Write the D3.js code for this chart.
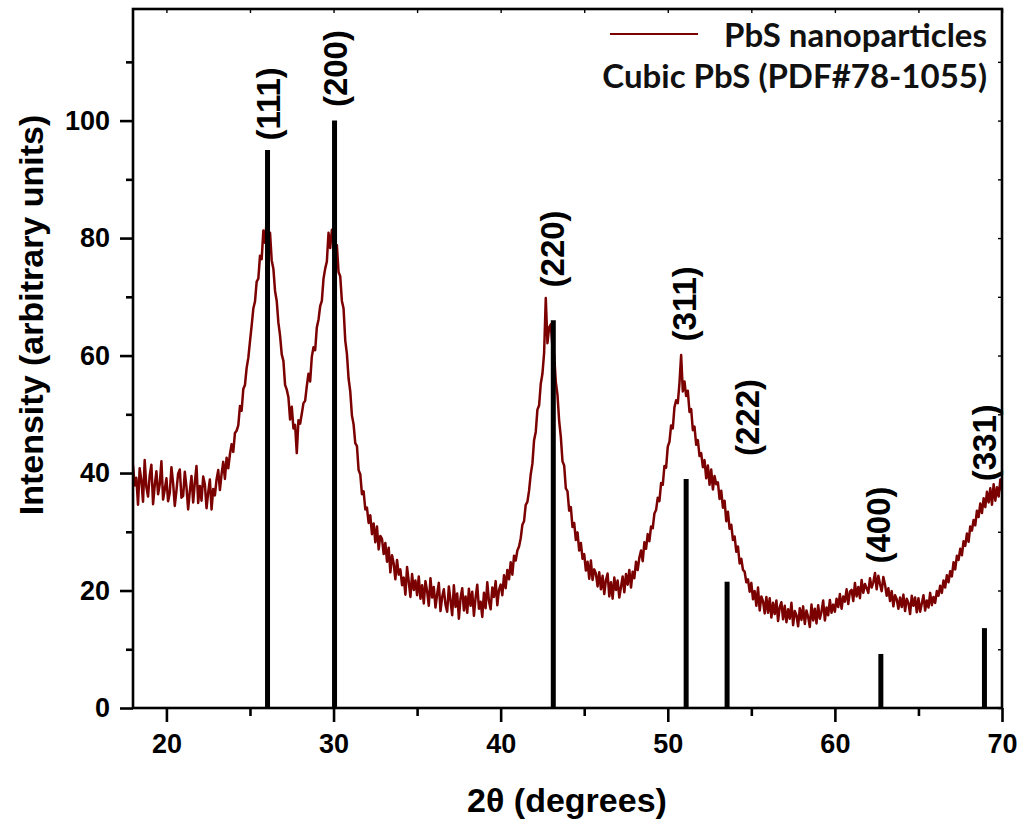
<!DOCTYPE html>
<html>
<head>
<meta charset="utf-8">
<script src="https://cdn.jsdelivr.net/npm/d3@7"></script>
<style>
  html, body { margin: 0; padding: 0; background: #fff; }
  svg { display: block; }
  .tick text { font-family: "Liberation Sans", Arial, sans-serif; font-weight: bold; }
</style>
</head>
<body>
<svg id="chart" width="1021" height="825"></svg>
<script>
// 2θ scan grid (degrees)
const thetaStart = 18.0;
const thetaStep = 0.1;

// Measured XRD intensity of the PbS nanoparticles, one value per 0.1° from 18° to 70°
const intensity = [
  41.3, 37.9, 39.2, 34.6, 40.8, 38.8, 35.1, 42.2, 37.6, 36.0,
  39.6, 41.4, 34.7, 37.9, 40.3, 36.4, 38.1, 42.0, 35.5, 37.2,
  39.1, 35.2, 36.6, 41.0, 38.3, 34.4, 37.0, 39.9, 40.6, 35.8,
  36.1, 40.2, 37.6, 33.8, 36.9, 39.5, 35.0, 38.4, 41.2, 34.9,
  37.8, 35.3, 39.4, 38.1, 34.0, 36.7, 38.9, 33.8, 37.3, 36.2,
  38.9, 40.5, 37.1, 39.8, 41.9, 39.0, 42.6, 40.8, 43.2, 44.9,
  43.6, 46.8, 47.2, 48.1, 51.4, 50.6, 54.3, 55.0, 57.9, 59.6,
  62.4, 65.1, 68.0, 69.2, 72.6, 73.1, 77.0, 76.4, 81.3, 79.2,
  83.1, 78.4, 80.9, 76.2, 74.8, 71.0, 69.3, 65.6, 63.4, 60.2,
  59.1, 55.0, 54.2, 52.9, 49.1, 51.3, 47.6, 48.2, 43.4, 49.0,
  48.4, 50.1, 51.9, 52.3, 54.8, 56.9, 55.6, 59.8, 61.4, 60.9,
  64.8, 66.1, 68.4, 69.3, 73.1, 74.8, 76.0, 80.9, 78.3, 81.4,
  79.6, 76.9, 78.8, 74.2, 73.5, 69.3, 68.0, 62.6, 60.3, 56.1,
  53.9, 49.8, 48.3, 45.1, 44.6, 40.5, 39.8, 36.4, 36.9, 33.8,
  34.1, 31.5, 32.8, 29.6, 31.4, 28.2, 30.9, 27.0, 29.3, 28.8,
  26.2, 28.1, 24.9, 27.3, 23.1, 26.0, 24.6, 21.9, 25.2, 22.7,
  23.6, 20.9, 22.2, 19.3, 24.0, 21.5, 18.9, 22.8, 20.1, 21.7,
  19.2, 22.4, 18.6, 20.9, 17.8, 21.6, 19.9, 17.4, 22.1, 18.8,
  20.6, 17.1, 19.4, 21.3, 16.5, 18.9, 20.2, 17.6, 16.4, 20.7,
  18.3, 15.8, 20.9, 17.2, 19.5, 15.2, 18.7, 20.4, 16.6, 19.0,
  16.2, 20.3, 17.4, 19.8, 15.7, 18.8, 21.0, 16.9, 18.1, 15.5,
  19.6, 17.0, 21.4, 18.2, 16.8, 20.5, 18.9, 21.6, 17.5, 20.1,
  21.0, 19.2, 22.6, 20.4, 23.5, 21.9, 24.8, 22.7, 25.9, 25.1,
  26.8, 27.5, 28.9, 31.2, 31.8, 34.6, 35.1, 37.0, 39.8, 41.6,
  45.6, 47.0, 50.8, 51.5, 55.2, 56.9, 60.4, 69.8, 62.1, 64.8,
  65.3, 61.4, 60.2, 55.5, 53.3, 48.9, 46.2, 42.0, 41.3, 37.4,
  36.9, 33.6, 34.2, 30.8, 31.5, 28.6, 29.9, 26.8, 28.1, 25.4,
  26.2, 23.4, 24.9, 22.0, 25.1, 21.8, 23.6, 22.9, 20.7, 23.1,
  20.2, 22.5, 19.4, 21.8, 22.9, 19.0, 21.4, 18.6, 22.2, 20.1,
  21.7, 18.8, 20.6, 22.4, 19.7, 22.8, 21.0, 23.5, 20.5, 23.2,
  22.1, 24.9, 23.5, 25.6, 26.8, 25.0, 28.2, 27.1, 29.6, 28.4,
  30.9, 30.6, 33.1, 33.7, 35.8, 35.2, 38.3, 38.0, 41.2, 40.9,
  44.5, 45.3, 48.1, 47.6, 51.2, 52.4, 51.9, 55.3, 60.1, 53.9,
  55.6, 53.1, 54.0, 50.4, 50.9, 47.3, 47.9, 44.8, 45.6, 42.9,
  43.4, 41.0, 42.2, 39.1, 41.3, 38.0, 40.6, 37.2, 39.5, 38.1,
  38.4, 35.6, 37.0, 34.1, 35.3, 31.8, 33.4, 30.5, 31.2, 28.6,
  29.2, 26.6, 27.5, 24.6, 25.4, 23.5, 23.2, 21.4, 21.9, 19.8,
  21.3, 18.5, 19.9, 17.4, 20.5, 16.6, 19.0, 18.2, 16.1, 18.9,
  16.2, 18.7, 15.4, 17.9, 16.0, 18.3, 14.8, 17.2, 18.0, 15.1,
  17.4, 14.6, 16.8, 15.2, 17.9, 14.1, 16.5, 15.8, 13.9, 17.0,
  15.0, 17.3, 14.3, 16.6, 15.5, 13.8, 17.6, 14.9, 16.9, 14.4,
  17.5, 15.2, 16.4, 18.3, 14.9, 17.1, 15.8, 18.4, 16.2, 17.6,
  16.4, 18.6, 17.2, 19.4, 16.9, 19.0, 18.1, 20.2, 17.7, 19.8,
  20.1, 18.2, 21.3, 19.0, 20.6, 18.7, 21.8, 19.6, 21.1, 20.4,
  19.6, 22.1, 20.5, 21.4, 23.0, 20.2, 22.5, 21.1, 19.9, 22.3,
  21.0, 19.1, 20.4, 18.2, 19.9, 17.3, 19.2, 18.5, 16.9, 18.8,
  17.2, 19.3, 16.5, 18.6, 17.9, 16.0, 19.1, 17.4, 18.8, 16.3,
  18.7, 16.4, 17.8, 19.2, 16.6, 18.3, 17.1, 19.6, 17.5, 18.9,
  17.9, 19.9, 19.1, 20.8, 19.6, 21.7, 20.5, 22.6, 21.4, 23.3,
  22.4, 24.8, 23.6, 25.9, 25.2, 27.1, 26.0, 28.4, 27.6, 29.7,
  28.3, 30.9, 30.2, 32.0, 31.1, 33.6, 32.5, 34.8, 33.2, 35.7,
  34.2, 36.8, 35.0, 37.4, 34.6, 38.1, 35.3, 37.6, 36.0, 38.9,
  37.0
];

// Reference pattern, cubic PbS (PDF#78-1055)
const refAngle     = [26.05, 30.06, 43.15, 51.10, 53.55, 62.75, 68.95];
const refIntensity = [95.0, 100.0, 66.0, 39.0, 21.5, 9.2, 13.6];
const refHkl       = ["(111)", "(200)", "(220)", "(311)", "(222)", "(400)", "(331)"];
// where each (hkl) label sits: 2θ of its centre line, intensity at its lower end
const hklLabelAngle = [26.1, 30.1, 43.05, 51.0, 54.74, 62.6, 68.95];
const hklLabelBase  = [96.6, 102.3, 71.6, 62.4, 42.9, 24.6, 38.6];

// Axis ticks
const xMajorTicks = [20, 30, 40, 50, 60, 70];
const xMinorTicks = [25, 35, 45, 55, 65];
const yMajorTicks = [0, 20, 40, 60, 80, 100];
const yMinorTicks = [10, 30, 50, 70, 90, 110];

const seriesNames = ["PbS nanoparticles", "Cubic PbS (PDF#78-1055)"];
const curveColor = "#7b0000";

const svg = d3.select("#chart");
const plotLeft = 133, plotRight = 1002, plotTop = 9, plotBottom = 708;

const x = d3.scaleLinear().domain([18, 70]).range([plotLeft, plotRight]);
const y = d3.scaleLinear().domain([0, 119]).range([plotBottom, plotTop]);

const points = intensity.map((v, i) => [thetaStart + i * thetaStep, v]);

// clip so nothing leaks outside the frame
svg.append("defs").append("clipPath").attr("id", "plotClip")
  .append("rect").attr("x", plotLeft).attr("y", plotTop)
  .attr("width", plotRight - plotLeft).attr("height", plotBottom - plotTop);

const plot = svg.append("g").attr("clip-path", "url(#plotClip)");

// measured pattern
plot.append("path")
  .datum(points)
  .attr("fill", "none")
  .attr("stroke", curveColor)
  .attr("stroke-width", 2.5)
  .attr("stroke-linejoin", "round")
  .attr("d", d3.line().x(d => x(d[0])).y(d => y(d[1])));

// reference sticks
plot.selectAll("line.stick")
  .data(refAngle)
  .join("line")
  .attr("class", "stick")
  .attr("x1", d => x(d)).attr("x2", d => x(d))
  .attr("y1", y(0))
  .attr("y2", (d, i) => y(refIntensity[i]))
  .attr("stroke", "#000")
  .attr("stroke-width", 5);

// (hkl) labels
svg.selectAll("text.hkl")
  .data(refHkl)
  .join("text")
  .attr("class", "hkl")
  .attr("transform", (d, i) => `translate(${x(hklLabelAngle[i])},${y(hklLabelBase[i])}) rotate(-90)`)
  .attr("dy", "0.36em")
  .attr("text-anchor", "start")
  .attr("font-family", "'Liberation Sans', Arial, sans-serif")
  .attr("font-weight", "bold")
  .attr("font-size", 33)
  .attr("fill", "#000")
  .text(d => d);

// frame
svg.append("rect")
  .attr("x", plotLeft).attr("y", plotTop)
  .attr("width", plotRight - plotLeft).attr("height", plotBottom - plotTop)
  .attr("fill", "none").attr("stroke", "#000").attr("stroke-width", 2.6);

function styleAxis(g, width) {
  g.select(".domain").remove();
  g.selectAll(".tick line").attr("stroke", "#000").attr("stroke-width", width);
}

// bottom axis
svg.append("g").attr("transform", `translate(0,${plotBottom})`)
  .call(d3.axisBottom(x).tickValues(xMajorTicks).tickSize(14).tickPadding(12).tickFormat(d3.format("d")))
  .call(g => styleAxis(g, 2.6))
  .call(g => g.selectAll(".tick text").attr("font-size", 27).attr("fill", "#000"));
svg.append("g").attr("transform", `translate(0,${plotBottom})`)
  .call(d3.axisBottom(x).tickValues(xMinorTicks).tickSize(8).tickFormat(""))
  .call(g => styleAxis(g, 2.6));

// left axis
svg.append("g").attr("transform", `translate(${plotLeft},0)`)
  .call(d3.axisLeft(y).tickValues(yMajorTicks).tickSize(13).tickPadding(10).tickFormat(d3.format("d")))
  .call(g => styleAxis(g, 2.6))
  .call(g => g.selectAll(".tick text").attr("font-size", 27).attr("fill", "#000"));
svg.append("g").attr("transform", `translate(${plotLeft},0)`)
  .call(d3.axisLeft(y).tickValues(yMinorTicks).tickSize(7).tickFormat(""))
  .call(g => styleAxis(g, 2.6));

// mirrored inner ticks on the top and right edges
svg.append("g").attr("transform", `translate(0,${plotTop})`)
  .call(d3.axisTop(x).tickValues(xMajorTicks.concat(xMinorTicks)).tickSize(-4).tickFormat(""))
  .call(g => styleAxis(g, 1.4));
svg.append("g").attr("transform", `translate(${plotRight},0)`)
  .call(d3.axisRight(y).tickValues(yMajorTicks.concat(yMinorTicks)).tickSize(-4).tickFormat(""))
  .call(g => styleAxis(g, 1.4));

// axis titles
svg.append("text")
  .attr("x", 567).attr("y", 812)
  .attr("text-anchor", "middle")
  .attr("font-family", "'Liberation Sans', Arial, sans-serif")
  .attr("font-weight", "bold").attr("font-size", 34)
  .text("2θ (degrees)");

svg.append("text")
  .attr("transform", "translate(43,315) rotate(-90)")
  .attr("text-anchor", "middle")
  .attr("font-family", "'Liberation Sans', Arial, sans-serif")
  .attr("font-weight", "bold").attr("font-size", 34)
  .text("Intensity (arbitrary units)");

// legend
const legend = svg.append("g");
legend.append("line")
  .attr("x1", 610).attr("x2", 698).attr("y1", 34).attr("y2", 34)
  .attr("stroke", curveColor).attr("stroke-width", 2);
legend.selectAll("text")
  .data(seriesNames)
  .join("text")
  .attr("x", 987)
  .attr("y", (d, i) => 47 + i * 41)
  .attr("text-anchor", "end")
  .attr("font-family", "Lato, 'Open Sans', sans-serif")
  .attr("font-weight", "bold")
  .attr("font-size", 33)
  .attr("fill", "#111")
  .text(d => d);
</script>
</body>
</html>
